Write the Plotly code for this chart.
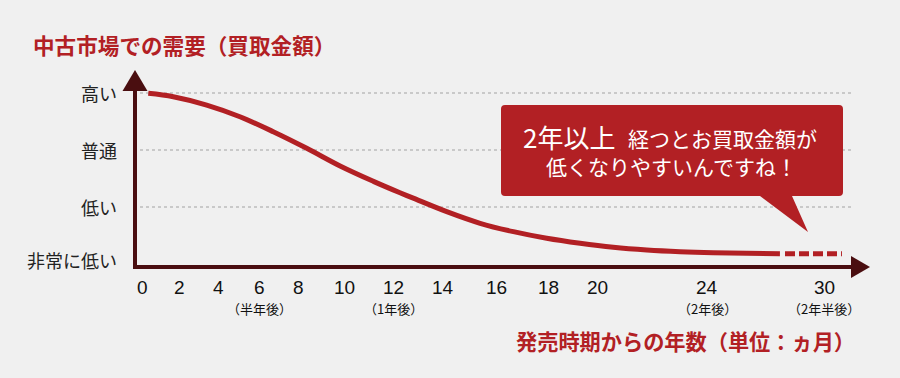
import numpy as np
import plotly.graph_objects as go

# ---- data ----
tick_months = [0, 2, 4, 6, 8, 10, 12, 14, 16, 18, 20, 24, 30]
tick_labels = ["0", "2", "4", "6", "8", "10", "12", "14", "16", "18", "20", "24", "30"]
tick_sublabels = {6: "（半年後）", 12: "（1年後）", 24: "（2年後）", 30: "（2年半後）"}
# non-uniform axis scale (illustration): axis slot for each tick month
tick_slots = [0, 37, 76, 117, 156, 202, 251, 301, 354, 406, 455, 565, 682]

level_labels = ["非常に低い", "低い", "普通", "高い"]
level_values = [0, 1, 2, 3]

curve_months = [0.34, 1.69, 3.42, 5.07, 6.73, 8.38, 9.83, 11.20, 12.28, 12.81,
                14.14, 15.40, 16.67, 17.95, 19.31, 20.59, 21.81, 23.02, 24.32,
                26.04, 27.74]
curve_levels = [2.995, 2.935, 2.789, 2.584, 2.321, 2.03, 1.72, 1.45, 1.25, 1.155,
                0.918, 0.714, 0.567, 0.451, 0.363, 0.293, 0.246, 0.216, 0.198,
                0.188, 0.181]
dash_months = [28.0, 30.92]
dash_levels = [0.18, 0.18]

title_text = "中古市場での需要（買取金額）"
xlabel_text = "発売時期からの年数（単位：ヵ月）"
callout_big = "2年以上"
callout_line1 = "経つとお買取金額が"
callout_line2 = "低くなりやすいんですね！"

# ---- style ----
W, H = 900, 378
BG = "#f0f0f0"
RED = "#b22024"
AXIS = "#4a0e10"
GRID = "#c9c9c9"
TXT = "#222222"
JP = "Noto Sans CJK JP"
NUM = "Liberation Sans, Noto Sans CJK JP"


def to_slot(m):
    m = np.asarray(m, dtype=float)
    out = np.interp(m, tick_months, tick_slots)
    # linear extrapolation beyond the last tick
    k = (tick_slots[-1] - tick_slots[-2]) / (tick_months[-1] - tick_months[-2])
    over = m > tick_months[-1]
    out[over] = tick_slots[-1] + (m[over] - tick_months[-1]) * k
    return out


def px(x):
    return x / W


def py(y):
    return 1 - y / H


fig = go.Figure()

fig.add_trace(go.Scatter(
    x=to_slot(curve_months), y=curve_levels, mode="lines",
    line=dict(color=RED, width=5, shape="spline", smoothing=1.0),
    hoverinfo="skip", showlegend=False))
fig.add_trace(go.Scatter(
    x=to_slot(dash_months), y=dash_levels, mode="lines",
    line=dict(color=RED, width=5, dash="10px,4px"),
    hoverinfo="skip", showlegend=False))

shapes = []
# dotted gridlines
for lv in level_values[1:]:
    shapes.append(dict(type="line", xref="paper", yref="y",
                       x0=px(140), x1=px(852), y0=lv, y1=lv,
                       line=dict(color=GRID, width=2, dash="dot"), layer="below"))
# axes
shapes.append(dict(type="line", xref="paper", yref="paper",
                   x0=px(135), x1=px(135), y0=py(269), y1=py(86),
                   line=dict(color=AXIS, width=4)))
shapes.append(dict(type="line", xref="paper", yref="paper",
                   x0=px(133), x1=px(854), y0=py(267), y1=py(267),
                   line=dict(color=AXIS, width=4)))


def tri(pts):
    return "M " + " L ".join(f"{px(a)},{py(b)}" for a, b in pts) + " Z"


shapes.append(dict(type="path", xref="paper", yref="paper",
                   path=tri([(135, 70), (122.5, 91), (147.5, 91)]),
                   fillcolor=AXIS, line=dict(width=0)))
shapes.append(dict(type="path", xref="paper", yref="paper",
                   path=tri([(870, 267), (851, 256), (851, 278)]),
                   fillcolor=AXIS, line=dict(width=0)))

# callout box (rounded) + tail
x0, x1, y0, y1, r = 501, 843, 105, 196, 4
box = (f"M {px(x0 + r)},{py(y0)} L {px(x1 - r)},{py(y0)} "
       f"Q {px(x1)},{py(y0)} {px(x1)},{py(y0 + r)} "
       f"L {px(x1)},{py(y1 - r)} Q {px(x1)},{py(y1)} {px(x1 - r)},{py(y1)} "
       f"L {px(792)},{py(y1)} L {px(808)},{py(232)} L {px(760)},{py(y1)} "
       f"L {px(x0 + r)},{py(y1)} Q {px(x0)},{py(y1)} {px(x0)},{py(y1 - r)} "
       f"L {px(x0)},{py(y0 + r)} Q {px(x0)},{py(y0)} {px(x0 + r)},{py(y0)} Z")
shapes.append(dict(type="path", xref="paper", yref="paper", path=box,
                   fillcolor=RED, line=dict(width=0)))

ann = []
# title
ann.append(dict(text=f"<b>{title_text}</b>", xref="paper", yref="paper",
                x=px(31), y=py(44), xanchor="left", yanchor="middle",
                showarrow=False, font=dict(family=JP, size=21.6, color=RED)))
# x label
ann.append(dict(text=f"<b>{xlabel_text}</b>", xref="paper", yref="paper",
                x=px(857), y=py(340), xanchor="right", yanchor="middle",
                showarrow=False, font=dict(family=JP, size=21.2, color=RED)))
# y level labels
label_y = {0: 260, 1: 207, 2: 150, 3: 93}
for lv, lab in zip(level_values, level_labels):
    ann.append(dict(text=lab, xref="paper", yref="paper",
                    x=px(119), y=py(label_y[lv]), xanchor="right", yanchor="middle",
                    showarrow=False, font=dict(family=JP, size=18, color=TXT)))
# x tick labels
for m, lab, s in zip(tick_months, tick_labels, tick_slots):
    ann.append(dict(text=lab, xref="x", yref="paper", x=s, y=py(287),
                    xanchor="center", yanchor="middle", showarrow=False,
                    font=dict(family=NUM, size=19, color="#111111")))
    if m in tick_sublabels:
        ann.append(dict(text=tick_sublabels[m], xref="x", yref="paper", x=s, y=py(308),
                        xanchor="center", yanchor="middle", showarrow=False,
                        font=dict(family=JP, size=13, color="#111111")))
# callout text
ann.append(dict(text=callout_big, xref="paper", yref="paper",
                x=px(521), y=py(136), xanchor="left", yanchor="middle",
                showarrow=False, font=dict(family=JP, size=26, color="white")))
ann.append(dict(text=callout_line1, xref="paper", yref="paper",
                x=px(626), y=py(138), xanchor="left", yanchor="middle",
                showarrow=False, font=dict(family=JP, size=21, color="white")))
ann.append(dict(text=callout_line2, xref="paper", yref="paper",
                x=px(671), y=py(166), xanchor="center", yanchor="middle",
                showarrow=False, font=dict(family=JP, size=21, color="white")))

fig.update_layout(
    width=W, height=H, margin=dict(l=0, r=0, t=0, b=0),
    paper_bgcolor=BG, plot_bgcolor=BG,
    xaxis=dict(range=[-142, W - 142], visible=False, fixedrange=True),
    yaxis=dict(range=[(264 - H) / 57, 264 / 57], visible=False, fixedrange=True),
    shapes=shapes, annotations=ann, showlegend=False,
)

fig.write_html("out.html", config={"displayModeBar": False})

# remove default page margin so the figure fills the window exactly
with open("out.html", "r", encoding="utf-8") as f:
    html = f.read()
html = html.replace("<head>", "<head><style>html,body{margin:0;padding:0;background:#f0f0f0;}</style>", 1)
with open("out.html", "w", encoding="utf-8") as f:
    f.write(html)
